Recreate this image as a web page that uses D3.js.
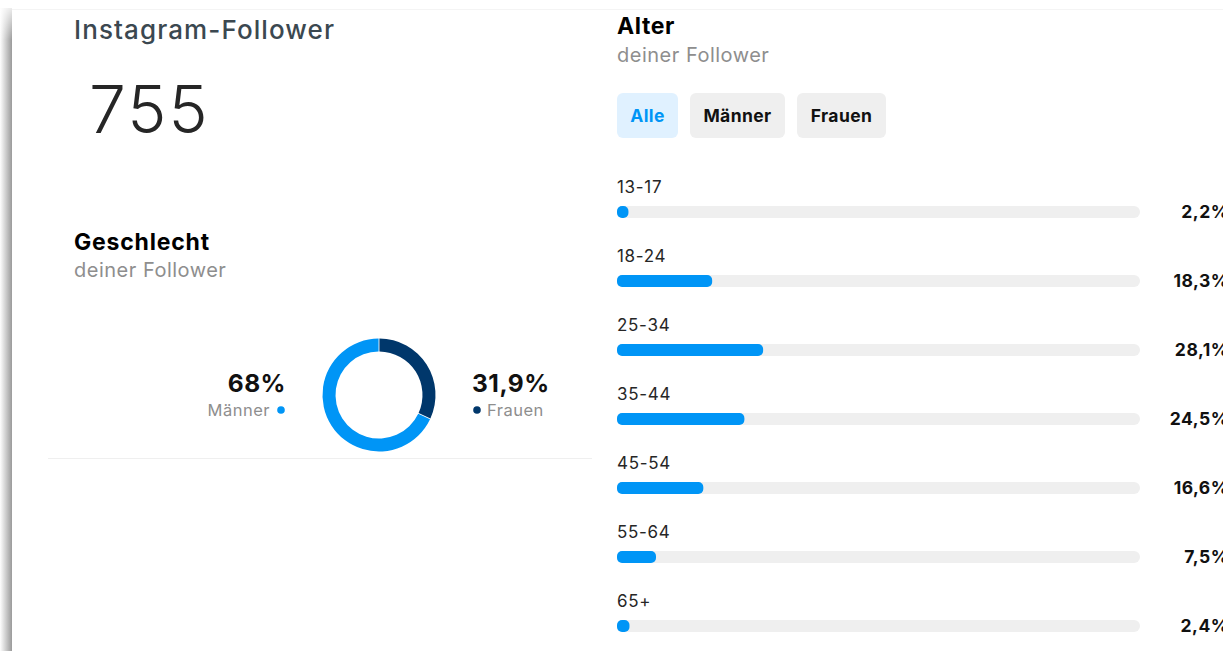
<!DOCTYPE html>
<html lang="de">
<head>
  <meta charset="UTF-8">
  <title>Instagram-Follower</title>
  <style>
    html, body { margin: 0; padding: 0; background: #fff; overflow: hidden; }
    svg { display: block; font-family: Inter, Roboto, "Noto Sans", sans-serif; }
  </style>
</head>
<body>
  <script src="https://cdn.jsdelivr.net/npm/d3@7/dist/d3.min.js"></script>
  <script>
    // Daten
    const followerCount = 755;
    const genderLabels = ['Frauen', 'Männer'];
    const genderValues = [31.9, 68];
    const filterLabels = ['Alle', 'Männer', 'Frauen'];
    const ageGroups = ['13-17', '18-24', '25-34', '35-44', '45-54', '55-64', '65+'];
    const ageValues = [2.2, 18.3, 28.1, 24.5, 16.6, 7.5, 2.4];

    const W = 1223, H = 651;
    const blue = '#0095f6', navy = '#00376b', track = '#efefef';
    const de = d3.formatLocale({ decimal: ',', thousands: '.', grouping: [3], currency: ['', ' €'] });
    const pct = v => de.format('.1~f')(v) + '%';

    const svg = d3.select('body').append('svg').attr('width', W).attr('height', H);

    // linker Schatten + obere Kante
    const defs = svg.append('defs');
    const grad = defs.append('linearGradient').attr('id', 'shade').attr('x1', 0).attr('x2', 1);
    grad.append('stop').attr('offset', 0).attr('stop-color', '#fff');
    grad.append('stop').attr('offset', 1).attr('stop-color', '#9a9a9a');
    const gradV = defs.append('linearGradient').attr('id', 'fadeTop').attr('x1', 0).attr('x2', 0).attr('y1', 0).attr('y2', 1);
    gradV.append('stop').attr('offset', 0).attr('stop-color', '#fff').attr('stop-opacity', 1);
    gradV.append('stop').attr('offset', 1).attr('stop-color', '#fff').attr('stop-opacity', 0);
    svg.append('rect').attr('x', 0).attr('y', 8).attr('width', 12).attr('height', H).attr('fill', 'url(#shade)');
    svg.append('rect').attr('x', 0).attr('y', 0).attr('width', 13).attr('height', 40).attr('fill', 'url(#fadeTop)');
    svg.append('line').attr('x1', 12).attr('x2', W).attr('y1', 9.5).attr('y2', 9.5).attr('stroke', '#f4f4f4');

    // --- linke Spalte ---
    const left = svg.append('g');
    left.append('text').attr('x', 74).attr('y', 39).attr('font-size', 26).attr('font-weight', 500)
      .attr('letter-spacing', 1.1).attr('fill', '#3b4850').text('Instagram-Follower');
    left.append('text').attr('x', 89).attr('y', 133).attr('font-size', 66).attr('font-weight', 300)
      .attr('letter-spacing', 2).attr('fill', '#262626').text(followerCount);

    left.append('text').attr('x', 74).attr('y', 250).attr('font-size', 23).attr('font-weight', 700)
      .attr('letter-spacing', 0.8).attr('fill', '#000').text('Geschlecht');
    left.append('text').attr('x', 74).attr('y', 277).attr('font-size', 20)
      .attr('letter-spacing', 0.5).attr('fill', '#8e8e8e').text('deiner Follower');

    // Donut
    const cx = 379, cy = 395, R = 56.5, r = 43.5;
    const pie = d3.pie().sort(null).value(d => d);
    const arc = d3.arc().innerRadius(r).outerRadius(R).padAngle(0.012);
    const color = d3.scaleOrdinal().domain(genderLabels).range([navy, blue]);
    left.append('g').attr('transform', `translate(${cx},${cy})`)
      .selectAll('path').data(pie(genderValues)).join('path')
      .attr('d', arc).attr('fill', (d, i) => color(genderLabels[i]));

    // Legende Männer (links)
    const mi = genderLabels.indexOf('Männer'), fi = genderLabels.indexOf('Frauen');
    left.append('text').attr('x', 286).attr('y', 392).attr('text-anchor', 'end')
      .attr('font-size', 24.5).attr('font-weight', 700).attr('letter-spacing', 0.5)
      .attr('fill', '#111').text(pct(genderValues[mi]));
    left.append('text').attr('x', 270).attr('y', 416).attr('text-anchor', 'end')
      .attr('font-size', 16.5).attr('letter-spacing', 0.5).attr('fill', '#8e8e8e').text(genderLabels[mi]);
    left.append('circle').attr('cx', 281).attr('cy', 410).attr('r', 3.8).attr('fill', color('Männer'));

    // Legende Frauen (rechts)
    left.append('text').attr('x', 472).attr('y', 392)
      .attr('font-size', 24.5).attr('font-weight', 700).attr('letter-spacing', 0.5)
      .attr('fill', '#111').text(pct(genderValues[fi]));
    left.append('circle').attr('cx', 477).attr('cy', 410).attr('r', 3.8).attr('fill', color('Frauen'));
    left.append('text').attr('x', 487).attr('y', 416)
      .attr('font-size', 16.5).attr('letter-spacing', 0.5).attr('fill', '#8e8e8e').text(genderLabels[fi]);

    left.append('line').attr('x1', 48).attr('x2', 592).attr('y1', 458.5).attr('y2', 458.5)
      .attr('stroke', '#efefef');

    // --- rechte Spalte: Alter ---
    const right = svg.append('g');
    right.append('text').attr('x', 617).attr('y', 34).attr('font-size', 23).attr('font-weight', 700)
      .attr('letter-spacing', 0.6).attr('fill', '#000').text('Alter');
    right.append('text').attr('x', 617).attr('y', 62).attr('font-size', 20)
      .attr('letter-spacing', 0.5).attr('fill', '#8e8e8e').text('deiner Follower');

    // Filter-Buttons
    const btnX = [617, 690, 797], btnW = [61, 95, 89];
    const btn = right.selectAll('g.btn').data(filterLabels).join('g').attr('class', 'btn')
      .attr('transform', (d, i) => `translate(${btnX[i]},93)`);
    btn.append('rect').attr('width', (d, i) => btnW[i]).attr('height', 45).attr('rx', 6)
      .attr('fill', (d, i) => i === 0 ? '#e0f1ff' : '#efefef');
    btn.append('text').attr('x', (d, i) => btnW[i] / 2).attr('y', 29).attr('text-anchor', 'middle')
      .attr('font-size', 17.5).attr('font-weight', 700).attr('letter-spacing', 0.4)
      .attr('fill', (d, i) => i === 0 ? blue : '#111').text(d => d);

    // Balken
    const x = d3.scaleLinear().domain([0, 100]).range([0, 520]);
    const y = d3.scalePoint().domain(ageGroups).range([212, 626]);
    const barX = 617, barH = 12, trackW = 523;
    const row = right.selectAll('g.row').data(ageGroups).join('g').attr('class', 'row')
      .attr('transform', d => `translate(0,${y(d)})`);
    row.append('text').attr('x', barX).attr('y', -19).attr('font-size', 17)
      .attr('letter-spacing', 0.7).attr('fill', '#262626').text(d => d);
    row.append('rect').attr('x', barX).attr('y', -barH / 2).attr('width', trackW).attr('height', barH)
      .attr('rx', 6).attr('fill', track);
    row.append('rect').attr('x', barX).attr('y', -barH / 2)
      .attr('width', (d, i) => Math.max(x(ageValues[i]), 10)).attr('height', barH)
      .attr('rx', 5).attr('fill', blue);
    row.append('text').attr('x', 1229).attr('y', 6).attr('text-anchor', 'end')
      .attr('font-size', 17.5).attr('font-weight', 700).attr('letter-spacing', 0.5).attr('fill', '#111')
      .text((d, i) => pct(ageValues[i]));
  </script>
</body>
</html>
